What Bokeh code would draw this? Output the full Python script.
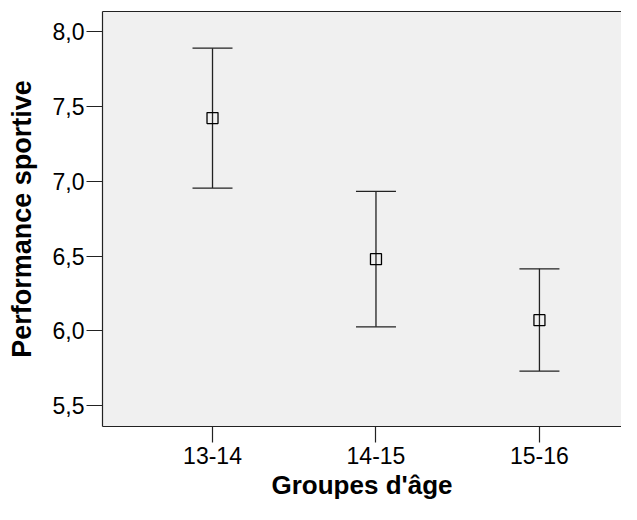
from bokeh.plotting import figure
from bokeh.models import (ColumnDataSource, Whisker, TeeHead, FixedTicker,
                          LinearAxis, Range1d, CustomJSTickFormatter)
from bokeh.embed import file_html
from bokeh.resources import INLINE

groups = ["13-14", "14-15", "15-16"]
means = [7.424, 6.480, 6.072]
upper = [7.892, 6.934, 6.416]
lower = [6.956, 6.028, 5.732]
y_ticks = [5.5, 6.0, 6.5, 7.0, 7.5, 8.0]

xpos = list(range(len(groups)))
src = ColumnDataSource(dict(x=xpos, mean=means, upper=upper, lower=lower))

p = figure(width=621, height=504, output_backend="svg", toolbar_location=None,
           x_range=Range1d(-0.673, 2.502), y_range=Range1d(5.361, 8.137),
           min_border_left=102, min_border_right=0, min_border_top=11,
           min_border_bottom=78)
p.background_fill_color = "#f0f0f0"
p.border_fill_color = "white"
p.outline_line_color = None
p.grid.visible = False

FONT = "Liberation Sans"

for ax in (p.xaxis[0], p.yaxis[0]):
    ax.axis_line_color = "#222222"
    ax.axis_line_width = 1.2
    ax.major_tick_line_color = "#222222"
    ax.major_tick_line_width = 1.2
    ax.major_tick_out = 16
    ax.major_tick_in = 0
    ax.minor_tick_line_color = None
    ax.major_label_text_font = FONT
    ax.major_label_text_font_size = "23px"
    ax.major_label_text_color = "black"
    ax.axis_label_text_font = FONT
    ax.axis_label_text_font_style = "bold"
    ax.axis_label_text_color = "black"

p.xaxis.ticker = FixedTicker(ticks=xpos)
p.xaxis.major_label_overrides = {i: g for i, g in enumerate(groups)}
p.xaxis.axis_label = "Groupes d'âge"
p.xaxis.axis_label_text_font_size = "26px"
p.xaxis.major_label_standoff = 4
p.xaxis.axis_label_standoff = 3

p.yaxis.ticker = FixedTicker(ticks=y_ticks)
p.yaxis.formatter = CustomJSTickFormatter(code="return tick.toFixed(1).replace('.', ',');")
p.yaxis.axis_label = "Performance sportive"
p.yaxis.axis_label_text_font_size = "27px"
p.yaxis.major_label_standoff = 2
p.yaxis.axis_label_standoff = 13

top = LinearAxis(ticker=FixedTicker(ticks=[]), axis_line_color="#222222",
                 axis_line_width=1.2, major_tick_out=0, major_tick_in=0,
                 minor_tick_out=0, minor_tick_in=0, major_label_text_font_size="0px",
                 major_label_standoff=0)
p.add_layout(top, "above")

w = Whisker(source=src, base="x", upper="upper", lower="lower",
            line_color="#222222", line_width=1.3,
            upper_head=TeeHead(size=40, line_color="#222222", line_width=1.3),
            lower_head=TeeHead(size=40, line_color="#222222", line_width=1.3))
p.add_layout(w)

p.scatter(x="x", y="mean", source=src, marker="square", size=11,
          fill_alpha=0, line_color="black", line_width=1.3)

open("out.html", "w").write(file_html(p, INLINE))
